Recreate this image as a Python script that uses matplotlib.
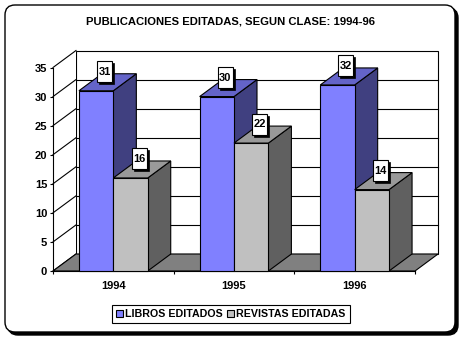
import matplotlib
matplotlib.use("Agg")
import matplotlib.pyplot as plt
from matplotlib import transforms
from matplotlib.patches import Polygon, Rectangle, FancyBboxPatch, Patch

# ---- data ----
years = ["1994", "1995", "1996"]
libros = [31, 30, 32]
revistas = [16, 22, 14]
series_names = ["LIBROS EDITADOS", "REVISTAS EDITADAS"]
y_ticks = [0, 5, 10, 15, 20, 25, 30, 35]
title = "PUBLICACIONES EDITADAS, SEGUN CLASE: 1994-96"

# ---- style ----
FONT = "Liberation Sans"
plt.rcParams["font.family"] = [FONT, "DejaVu Sans"]
plt.rcParams["font.weight"] = "bold"
face_colors = {
    "LIBROS EDITADOS": ("#8080FF", "#6464C8", "#404080"),   # front, top, side
    "REVISTAS EDITADAS": ("#C0C0C0", "#999999", "#606060"),
}
FLOOR = "#808080"
LW = 0.8

W, H = 467, 343
fig = plt.figure(figsize=(W / 100, H / 100), dpi=100)

# frame with heavy drop shadow (pixel-coordinate helper axes)
deco = fig.add_axes([0, 0, 1, 1])
deco.set_xlim(0, W)
deco.set_ylim(H, 0)
deco.axis("off")
deco.add_patch(FancyBboxPatch((8, 8), 450, 327,
                              boxstyle="round,pad=0,rounding_size=10",
                              fc="black", ec="black", lw=1))
deco.add_patch(FancyBboxPatch((5, 5), 450, 327,
                              boxstyle="round,pad=0,rounding_size=10",
                              fc="white", ec="black", lw=1))
deco.text(230, 22, title, ha="center", va="center", fontsize=8.1,
          fontweight="bold", color="black")

# ---- plot axes: front plane of the 3-D box ----
x_left, x_right = 53, 415
y_bottom, y_top = 271, 67.5
ax = fig.add_axes([x_left / W, 1 - y_bottom / H,
                   (x_right - x_left) / W, (y_bottom - y_top) / H])
ax.set_xlim(0, len(years))
ax.set_ylim(0, 35)
ax.patch.set_visible(False)

# depth of the box, in pixels, converted to data units
DX, DY = 23, 17
p0 = ax.transData.transform((0, 0))
p1 = ax.transData.transform((1, 1))
ddx = DX / (p1[0] - p0[0])
ddy = DY / (p1[1] - p0[1])
n = len(years)
ymax = y_ticks[-1]

# back wall
ax.add_patch(Rectangle((ddx, ddy), n, ymax, fc="white", ec="black",
                       lw=LW, zorder=1, clip_on=False))
for v in y_ticks[1:-1]:
    ax.plot([ddx, n + ddx], [v + ddy, v + ddy], color="black", lw=LW,
            zorder=1.1, clip_on=False)
# left wall
ax.add_patch(Polygon([(0, 0), (ddx, ddy), (ddx, ymax + ddy), (0, ymax)],
                     closed=True, fc="white", ec="none", zorder=1,
                     clip_on=False))
for v in y_ticks:
    ax.plot([0, ddx], [v, v + ddy], color="black", lw=LW, zorder=1.1,
            clip_on=False)
# floor
ax.add_patch(Polygon([(0, 0), (n, 0), (n + ddx, ddy), (ddx, ddy)],
                     closed=True, fc=FLOOR, ec="black", lw=LW, zorder=1.2,
                     clip_on=False))

# ---- bars ----
bar_w = 0.285
z = 2.0
for i, year in enumerate(years):
    c = i + 0.5
    for k, (name, vals) in enumerate(zip(series_names, [libros, revistas])):
        v = vals[i]
        xl = c - bar_w if k == 0 else c
        xr = xl + bar_w
        front, top, side = face_colors[name]
        ax.add_patch(Polygon([(xr, 0), (xr + ddx, ddy), (xr + ddx, v + ddy),
                              (xr, v)], closed=True, fc=side, ec="black",
                             lw=LW, zorder=z, clip_on=False))
        ax.add_patch(Polygon([(xl, v), (xr, v), (xr + ddx, v + ddy),
                              (xl + ddx, v + ddy)], closed=True, fc=top,
                             ec="black", lw=LW, zorder=z + 0.01,
                             clip_on=False))
        ax.add_patch(Rectangle((xl, 0), bar_w, v, fc=front, ec="black",
                               lw=LW, zorder=z + 0.02, clip_on=False))
        z += 0.1

# ---- value labels (boxes with shadow, sized in pixels) ----
for i, year in enumerate(years):
    c = i + 0.5
    for k, vals in enumerate([libros, revistas]):
        v = vals[i]
        xl = c - bar_w if k == 0 else c
        ax_x = xl + bar_w / 2 + ddx / 2
        ax_y = v + ddy / 2
        tr = transforms.Affine2D() + transforms.ScaledTranslation(
            ax_x, ax_y, ax.transData)
        ax.add_patch(Rectangle((-8.5, -2), 15, 21, fc="black", ec="black",
                               lw=0.5, transform=tr, zorder=5,
                               clip_on=False))
        ax.add_patch(Rectangle((-10.5, 0), 15, 21, fc="white", ec="black",
                               lw=LW, transform=tr, zorder=5.1,
                               clip_on=False))
        ax.text(-3, 10.5, str(v), transform=tr, ha="center", va="center",
                fontsize=8, fontweight="bold", zorder=5.2)

# ---- axes lines, ticks, labels ----
for s in ["top", "right"]:
    ax.spines[s].set_visible(False)
for s in ["left", "bottom"]:
    ax.spines[s].set_linewidth(LW)
    ax.spines[s].set_zorder(1.5)
ax.set_yticks(y_ticks)
ax.set_yticklabels([str(t) for t in y_ticks])
ax.tick_params(axis="y", direction="out", length=2.2, width=LW, pad=2,
               labelsize=8)
ax.set_xticks([i + 0.5 for i in range(n)])
ax.set_xticklabels(years)
ax.set_xticks(list(range(n + 1)), minor=True)
ax.tick_params(axis="x", which="major", length=0, pad=7, labelsize=8)
ax.tick_params(axis="x", which="minor", direction="out", length=2.2,
               width=LW)
for lab in ax.get_xticklabels() + ax.get_yticklabels():
    lab.set_fontweight("bold")

# ---- legend ----
handles = [Patch(fc=face_colors[name][0], ec="black", lw=LW)
           for name in series_names]
fig.legend(handles, series_names, loc="center",
           bbox_to_anchor=(231 / W, 1 - 314 / H), ncol=2,
           prop={"family": FONT, "weight": "bold", "size": 7.7},
           frameon=True, fancybox=False, edgecolor="black", framealpha=1,
           handlelength=0.6, handleheight=0.6, handletextpad=0.25,
           columnspacing=0.4, borderpad=0.4, borderaxespad=0)
fig.legends[0].get_frame().set_linewidth(LW)

fig.savefig("out.png", dpi=100)
